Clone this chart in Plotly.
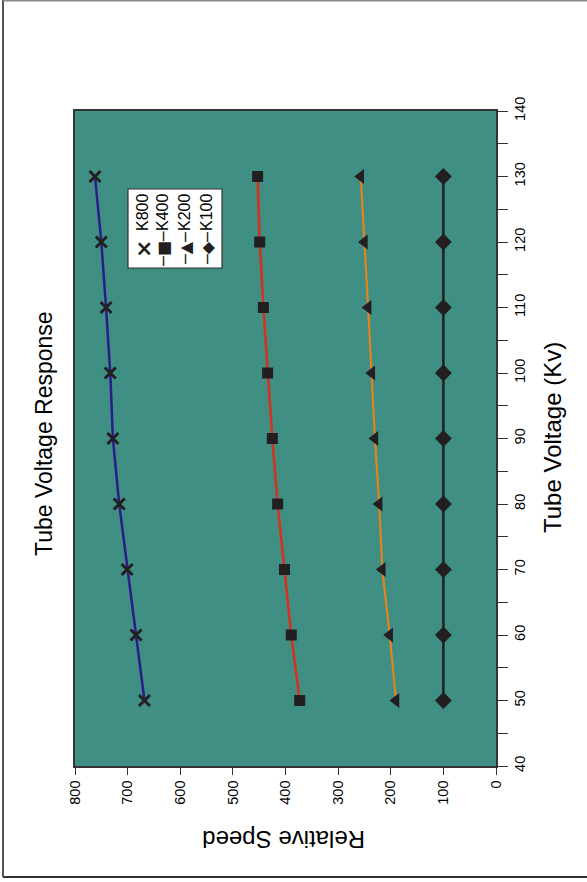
import plotly.graph_objects as go

# ---- data ----
voltage_kv = [50, 60, 70, 80, 90, 100, 110, 120, 130]
k800 = [668, 684, 701, 716, 728, 733, 741, 750, 762]
k400 = [373, 389, 402, 415, 425, 434, 442, 449, 453]
k200 = [190, 202, 216, 222, 230, 236, 243, 250, 257]
k100 = [100, 100, 100, 100, 100, 100, 100, 100, 100]

series_names = ["K800", "K400", "K200", "K100"]
series_values = [k800, k400, k200, k100]
line_colors = ["#2b1c8c", "#d8301f", "#e5831f", "#231f20"]
line_widths = [2.5, 2.5, 2.2, 2.5]
marker_symbols = ["x-thin", "square", "triangle-left", "diamond"]
marker_sizes = [11, 11, 13, 13]
legend_glyphs = ["<b>\u00d7</b>", "\u2500\u25a0\u2500", "\u2500\u25b2\u2500", "\u2500\u25c6\u2500"]

speed_ticks = list(range(0, 801, 100))
voltage_ticks = list(range(40, 141, 10))

# ---- layout geometry (pixels) ----
W, H = 587, 882
L, R, T, B = 75, 496, 111, 766


def px_x(x):
    return (x - L) / (R - L)


def px_y(y):
    return (B - y) / (B - T)


fig = go.Figure()
MARK = "#231f20"
for name, vals, lc, lw, sym, ms in zip(series_names, series_values, line_colors,
                                       line_widths, marker_symbols, marker_sizes):
    marker = dict(symbol=sym, size=ms, color=MARK)
    if sym == "x-thin":
        marker["line"] = dict(color=MARK, width=3)
    else:
        marker["line"] = dict(width=0)
    fig.add_trace(go.Scatter(
        x=vals, y=voltage_kv, mode="lines+markers", name=name,
        line=dict(color=lc, width=lw), marker=marker,
        hoverinfo="skip", showlegend=False,
    ))

font_family = "Liberation Sans, Arial, sans-serif"

fig.update_layout(
    width=W, height=H,
    margin=dict(l=L, r=W - R, t=T, b=H - B, autoexpand=False),
    paper_bgcolor="white",
    plot_bgcolor="#408f84",
    font=dict(family=font_family, color="black", size=14.5),
    showlegend=False,
)

fig.update_xaxes(
    range=[800, 0], tickvals=speed_ticks, ticktext=[str(v) for v in speed_ticks],
    tickangle=-90, ticks="outside", ticklen=7, tickwidth=1, tickcolor="#333",
    showgrid=False, zeroline=False, showline=True, linecolor="#333", linewidth=1.5,
    mirror=True, tickfont=dict(size=14.5), automargin=False,
)
fig.update_yaxes(
    range=[40, 140], side="right", tickvals=voltage_ticks,
    ticktext=[str(v) for v in voltage_ticks],
    tickangle=-90, ticks="outside", ticklen=10, tickwidth=1, tickcolor="#333",
    minor=dict(dtick=5, ticks="outside", ticklen=10, tickcolor="#333", showgrid=False),
    showgrid=False, zeroline=False, showline=True, linecolor="#333", linewidth=1.5,
    mirror=True, tickfont=dict(size=14.5), automargin=False,
)

annotations = [
    dict(text="Tube Voltage Response", x=px_x(44), y=px_y(434), textangle=-90,
         font=dict(size=23)),
    dict(text="Tube Voltage (Kv)", x=px_x(552), y=px_y(438), textangle=-90,
         font=dict(size=24)),
    dict(text="Relative Speed", x=px_x(284), y=px_y(840), textangle=180,
         font=dict(size=24)),
]
legend_cols = [143, 163, 185, 207]
for name, glyph, cx in zip(series_names, legend_glyphs, legend_cols):
    annotations.append(dict(text=name, x=px_x(cx), y=px_y(213), textangle=-90,
                            font=dict(size=16)))
    annotations.append(dict(text=glyph, x=px_x(cx), y=px_y(249), textangle=-90,
                            font=dict(size=16 if name != "K800" else 22, color=MARK,
                                      family="DejaVu Sans")))
for a in annotations:
    a.update(xref="paper", yref="paper", showarrow=False, xanchor="center",
             yanchor="middle")
fig.update_layout(annotations=annotations)

shapes = [
    # legend box
    dict(type="rect", xref="paper", yref="paper", x0=px_x(128), x1=px_x(222),
         y0=px_y(268), y1=px_y(189), fillcolor="white",
         line=dict(color="#333", width=1.2), layer="above"),
    # outer chart border
    dict(type="line", xref="paper", yref="paper", x0=px_x(3), x1=px_x(3),
         y0=px_y(0), y1=px_y(877), line=dict(color="#555", width=2)),
    dict(type="line", xref="paper", yref="paper", x0=px_x(3), x1=px_x(590),
         y0=px_y(0.5), y1=px_y(0.5), line=dict(color="#888", width=2)),
    dict(type="line", xref="paper", yref="paper", x0=px_x(3), x1=px_x(590),
         y0=px_y(877), y1=px_y(877), line=dict(color="#333", width=2)),
]
fig.update_layout(shapes=shapes)

fig.write_html(
    "out.html",
    config={"displayModeBar": False},
    post_script="document.body.style.margin='0';document.body.style.overflow='hidden';",
)
